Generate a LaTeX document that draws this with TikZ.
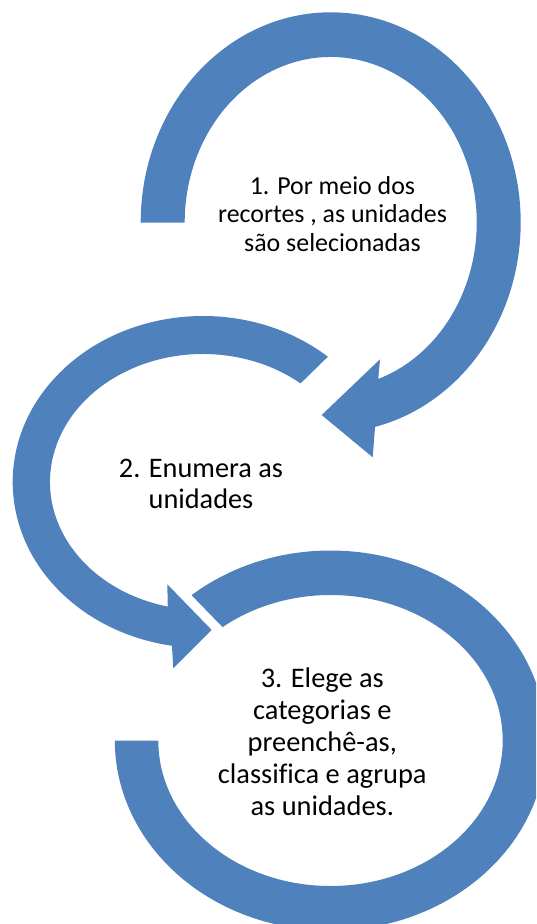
\documentclass[tikz,border=0pt]{standalone}
\usepackage{fontspec}
\setmainfont{Carlito}[Ligatures=CommonOff]
\usetikzlibrary{calc}
\definecolor{arrowblue}{RGB}{79,129,189}
\begin{document}
\begin{tikzpicture}[x=1pt,y=1pt,yscale=-1,
  arrowshape/.style={fill=arrowblue, draw=none},
  labeltext/.style={align=center, inner sep=0pt, anchor=base, text=black}]
\useasboundingbox (0,0) rectangle (536,924);
\clip (0,0) rectangle (536,924);
\coordinate (c1) at (330.7,222.5);
\coordinate (c2) at (203,482);
\coordinate (c3) at (330.5,740.5);
% arrow 1
\coordinate (a1o) at (372.7,457.3);
\coordinate (a1t) at (321.7,415);
\coordinate (a1i) at (380,359.3);
\fill[arrowshape] (c1) ++(180:190pt and 210.2pt)
  arc[start angle=180, end angle=436.5, x radius=190pt, y radius=210.2pt]
  -- (a1o) -- (a1t) -- (a1i)
  -- ($(c1)+(431:146pt and 165.5pt)$)
  arc[start angle=431, end angle=180, x radius=146pt, y radius=165.5pt] -- cycle;
% arrow 2
\coordinate (a2o) at (173.3,668.3);
\coordinate (a2t) at (211.7,630);
\coordinate (a2i) at (167.3,584.3);
\fill[arrowshape] (c2) ++(-49:190.3pt and 166pt)
  arc[start angle=-49, end angle=-260.6, x radius=190.3pt, y radius=166pt]
  -- (a2o) -- (a2t) -- (a2i)
  -- ($(c2)+(-256.7:153pt and 128pt)$)
  arc[start angle=-256.7, end angle=-50.4, x radius=153pt, y radius=128pt] -- cycle;
% arrow 3
\fill[arrowshape] (c3) ++(-130.1:215.7pt and 190pt)
  arc[start angle=-130.1, end angle=180, x radius=215.7pt, y radius=190pt]
  -- ($(c3)+(180:172.2pt and 145.5pt)$)
  arc[start angle=180, end angle=-128.8, x radius=172.2pt, y radius=145.5pt] -- cycle;
% labels (anchor=base is the baseline of the last line)
\node[labeltext, font=\fontsize{25.9}{28.8}\selectfont] (t1) at (332.5,251.7)
  {1. Por meio dos\\recortes , as unidades\\são selecionadas};
\node[labeltext, font=\fontsize{28.3}{31.3}\selectfont] (t2) at (201,508.7)
  {2. Enumera as\\unidades};
\node[labeltext, font=\fontsize{28.4}{32}\selectfont] (t3) at (322.3,815.3)
  {3. Elege as\\categorias e\\preenchê-as,\\classifica e agrupa\\as unidades.};
\end{tikzpicture}
\end{document}
